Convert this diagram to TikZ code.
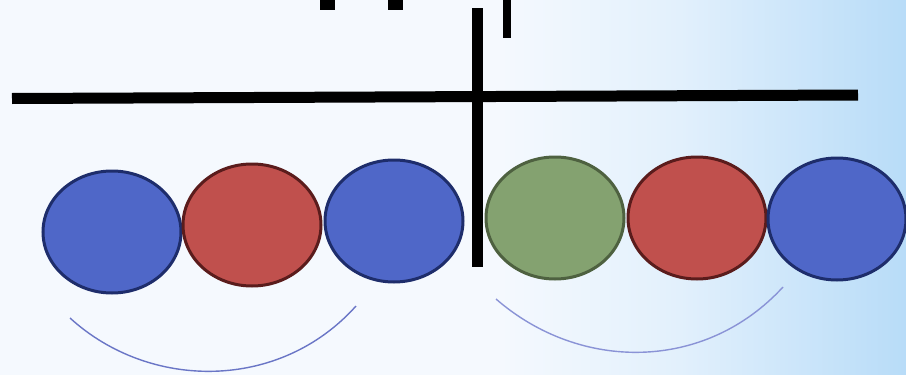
\documentclass[tikz,border=0pt]{standalone}
\usetikzlibrary{shapes.geometric}
\definecolor{bgl}{HTML}{F5F9FE}
\definecolor{bgm}{HTML}{E2F0FC}
\definecolor{bgr}{HTML}{B8DCF8}
\definecolor{bluef}{HTML}{4F67C8}
\definecolor{blued}{HTML}{1E2D6B}
\definecolor{redf}{HTML}{C0504D}
\definecolor{redd}{HTML}{5A1C1C}
\definecolor{greenf}{HTML}{84A270}
\definecolor{greend}{HTML}{4E6140}
\definecolor{arcl}{HTML}{6A76C6}
\definecolor{arcr}{HTML}{8A93D6}
\tikzset{
  ball/.style={ellipse, minimum width=138pt, minimum height=122pt, line width=3pt, inner sep=0pt},
  blueball/.style={ball, draw=blued, fill=bluef},
  redball/.style={ball, draw=redd, fill=redf},
  greenball/.style={ball, draw=greend, fill=greenf},
  bar/.style={line width=11pt, black},
  swing/.style={line width=1.4pt}
}
\begin{document}
\begin{tikzpicture}[x=1pt,y=-1pt]
\useasboundingbox (0,0) rectangle (906,375);
\fill[bgl] (0,0) rectangle (906,375);
\shade[left color=bgl, right color=bgm] (500,0) rectangle (680,375);
\shade[left color=bgm, right color=bgr] (679.5,0) rectangle (906,375);
% top marks
\fill[black] (320,0) rectangle (335,10);
\fill[black] (388,0) rectangle (403,10);
\fill[black] (503,0) rectangle (511,38);
% balls
\node[blueball] (b1) at (112,232) {};
\node[redball] (r1) at (252,225) {};
\node[blueball] (b2) at (394,221) {};
\node[greenball] (g1) at (555,218) {};
\node[redball] (r2) at (697,218) {};
\node[blueball] (b3) at (837,219) {};
% bars
\coordinate (hl) at (12,98.5);
\coordinate (hr) at (858,95);
\coordinate (vt) at (477.5,8);
\coordinate (vb) at (477.5,267);
\draw[bar] (hl) -- (hr);
\draw[bar] (vt) -- (vb);
% arcs
\coordinate (a1s) at (70,318);
\coordinate (a1e) at (356,306);
\coordinate (a2s) at (496,299);
\coordinate (a2e) at (783,287);
\draw[swing, arcl] (a1s) .. controls (150,391) and (280,391) .. (a1e);
\draw[swing, arcr] (a2s) .. controls (580,372) and (705,372) .. (a2e);
\end{tikzpicture}
\end{document}
